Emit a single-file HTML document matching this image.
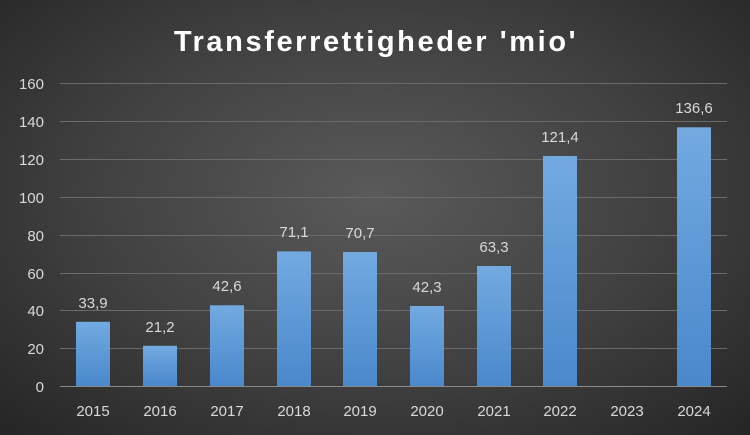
<!DOCTYPE html>
<html><head><meta charset="utf-8"><style>
html,body{margin:0;padding:0;}
body{width:750px;height:435px;overflow:hidden;background:radial-gradient(ellipse 70% 75% at 50% 45%,#5a5a5a 0%,#404040 55%,#262626 100%);font-family:"Liberation Sans",sans-serif;}
</style></head><body>
<svg width="750" height="435" xmlns="http://www.w3.org/2000/svg" style="position:absolute;left:0;top:0">
<defs><linearGradient id="g" x1="0" y1="0" x2="0" y2="1"><stop offset="0" stop-color="#72aae0"/><stop offset="1" stop-color="#4a88cc"/></linearGradient></defs>
<text x="376" y="51" text-anchor="middle" fill="#fff" font-size="29" font-weight="bold" letter-spacing="2.6">Transferrettigheder 'mio'</text>
<g stroke="#6a6a6a" stroke-width="1">
<line x1="60" x2="727" y1="83.5" y2="83.5"/><line x1="60" x2="727" y1="121.5" y2="121.5"/><line x1="60" x2="727" y1="159.5" y2="159.5"/><line x1="60" x2="727" y1="197.5" y2="197.5"/><line x1="60" x2="727" y1="235.5" y2="235.5"/><line x1="60" x2="727" y1="273.5" y2="273.5"/><line x1="60" x2="727" y1="310.5" y2="310.5"/><line x1="60" x2="727" y1="348.5" y2="348.5"/>
</g>
<line x1="60" x2="727" y1="386.5" y2="386.5" stroke="#8a8a8a"/>
<g fill="#d9d9d9" font-size="15" text-anchor="end">
<text x="44" y="89">160</text><text x="44" y="127">140</text><text x="44" y="165">120</text><text x="44" y="203">100</text><text x="44" y="241">80</text><text x="44" y="279">60</text><text x="44" y="316">40</text><text x="44" y="354">20</text><text x="44" y="392">0</text>
</g>
<g fill="url(#g)">
<rect x="76" y="321.8" width="34" height="64.2"/>
<rect x="143" y="345.8" width="34" height="40.2"/>
<rect x="210" y="305.3" width="34" height="80.7"/>
<rect x="277" y="251.4" width="34" height="134.6"/>
<rect x="343" y="252" width="34" height="134"/>
<rect x="410" y="306" width="34" height="80"/>
<rect x="477" y="266" width="34" height="120"/>
<rect x="543" y="156" width="34" height="230"/>
<rect x="677" y="127.3" width="34" height="258.7"/>
</g>
<g fill="#d9d9d9" font-size="15" text-anchor="middle">
<text x="93" y="308">33,9</text><text x="160" y="332">21,2</text><text x="227" y="291">42,6</text><text x="294" y="237">71,1</text><text x="360" y="238">70,7</text><text x="427" y="292">42,3</text><text x="494" y="252">63,3</text><text x="560" y="142">121,4</text><text x="694" y="113">136,6</text>
</g>
<g fill="#d9d9d9" font-size="15" text-anchor="middle">
<text x="93" y="416">2015</text><text x="160" y="416">2016</text><text x="227" y="416">2017</text><text x="294" y="416">2018</text><text x="360" y="416">2019</text><text x="427" y="416">2020</text><text x="494" y="416">2021</text><text x="560" y="416">2022</text><text x="627" y="416">2023</text><text x="694" y="416">2024</text>
</g>
</svg>
</body></html>
